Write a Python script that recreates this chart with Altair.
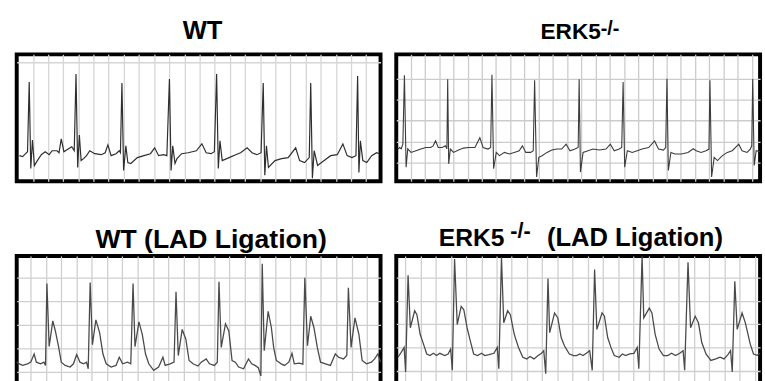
import altair as alt
import pandas as pd

# ---------------- data (time units, amplitude units) ----------------
wt_trace = [
    (2.7, 26), (6, 25), (9, 28), (11, 30), (12.7, 101), (14.3, 13), (16, 42), (18, 16), (21, 21),
    (25, 27), (29, 30), (33, 27), (36, 31), (41, 31), (43, 29), (45.3, 43), (48, 30), (52.7, 33),
    (56, 35), (58.5, 31), (60.3, 109), (62, 14), (63.7, 47), (65.5, 21), (68, 23), (71, 26),
    (74.3, 31), (79.3, 28), (86, 27), (90, 29), (92.7, 37), (96, 26), (101, 28), (104.3, 31),
    (105.5, 29), (107, 100), (108.7, 11), (111, 36), (113, 19), (116, 18), (122.7, 24), (129.3, 26),
    (136, 28), (140.3, 34), (144.3, 26), (149.3, 27), (152.7, 26), (155.3, 104), (157, 11),
    (158.7, 36), (161, 18), (163, 23), (167.7, 28), (174.3, 29), (182.7, 31), (188.3, 38),
    (192.7, 29), (197.7, 28), (201, 30), (203.3, 109), (205, 13), (206.7, 41), (209, 21), (216, 24),
    (222.7, 27), (227.7, 29), (234.3, 34), (239.3, 29), (244.3, 27), (248.5, 29), (250.7, 100),
    (252.3, 6), (254, 36), (256, 14), (262.7, 21), (269.3, 23), (276, 24), (283.7, 34), (287.7, 21),
    (292.7, 19), (297.5, 24), (299, 100), (300.7, 3), (302.5, 31), (306, 16), (312.7, 21),
    (319.3, 26), (326, 27), (331.7, 38), (336, 26), (341, 24), (345, 26), (346.7, 107), (348, 9),
    (349.5, 41), (352, 21), (356, 19), (361, 26), (366, 29), (369, 28),
]
erk5_trace = [
    (1.7, 32.7), (3.3, 34.3), (5, 33), (6.7, 37.7), (8.3, 107.7), (10, 14.3), (11.7, 33), (15, 29.3),
    (20, 31), (25, 32.7), (30, 34.3), (35, 34.3), (37.5, 36), (40, 41), (42.7, 34.3), (46.7, 34.3),
    (50, 36), (51.5, 33), (52.3, 103.7), (53.3, 17.7), (55, 32.7), (58.3, 29.3), (63.3, 31.7),
    (68.3, 33.7), (73.3, 34.3), (80, 34.3), (85, 44.3), (88.3, 34.3), (93.3, 32.7), (96, 34.3),
    (97.3, 108.3), (99, 12.7), (101.7, 29.3), (105, 26), (110, 29.3), (115, 27.7), (120, 29.3),
    (125, 31), (128.3, 36), (131.7, 29.3), (136.7, 29.3), (139.3, 31), (140.7, 102.7), (142.7, 4.3),
    (145, 24.3), (148.3, 26), (153.3, 29.3), (158.3, 31.7), (163.3, 32.7), (168.3, 32.7),
    (172.7, 37.7), (176.7, 31), (181.7, 32.7), (185, 34.3), (186, 103.7), (187.3, 9.3), (190, 29.3),
    (195, 31), (200, 32.7), (206.7, 31.7), (213.3, 32.7), (217.7, 37.7), (221.7, 31), (226.7, 32.7),
    (229.3, 34.3), (230.7, 101), (232.3, 14.3), (235, 31), (240, 29.3), (245, 31), (250, 32.7),
    (256.7, 34.3), (262.7, 41), (266.7, 32.7), (271.7, 31.7), (274, 34.3), (275.3, 104.3),
    (276.7, 11), (279.3, 29.3), (283.3, 27.7), (290, 27.7), (296.7, 29.3), (302, 33), (305, 31),
    (310, 29.3), (315, 31), (318, 32.7), (319, 102.7), (320.7, 4.3), (323.3, 24.3), (326.7, 21),
    (331.7, 26), (336.7, 29.3), (341.7, 31), (348.3, 37.7), (351.7, 31), (356.7, 29.3), (360, 32.7),
    (361.5, 36), (362.5, 104), (364, 16), (366, 31), (370, 30),
]
wt_lad_trace = [
    (0, 22), (2.7, 20.3), (6, 18.7), (11, 20.3), (14.3, 22), (17.7, 30.3), (20, 22), (24.3, 20.3),
    (27.7, 22), (29.3, 18.7), (30.7, 102), (33, 38), (36.7, 64), (39.3, 53.7), (42.7, 37), (45.3, 22),
    (49.3, 18.7), (54.3, 17), (57.7, 20.3), (61, 29.7), (64.3, 22), (68, 20.3), (71, 22),
    (72.7, 15.3), (74.7, 103), (77, 39.7), (80.5, 65), (84.3, 52), (87.7, 30.3), (91, 20.3),
    (96, 17), (101, 18.7), (104.3, 27), (107.7, 20.3), (112.7, 22), (116, 20.3), (118.3, 102),
    (120.3, 37.7), (124.3, 63), (127.7, 50.3), (131, 30.3), (134.3, 20.3), (139.3, 13.7),
    (144.3, 17), (148.7, 27), (151, 18.7), (156, 20.3), (160, 22), (162, 93.7), (164.3, 28.7),
    (168.3, 55.3), (172, 45.3), (175.3, 23.7), (179.3, 20.3), (184.3, 18), (187.7, 22), (192.7, 25.3),
    (196, 20.3), (201, 18.7), (204, 22), (205.7, 103.7), (208, 37), (212.3, 61), (215.7, 53.7),
    (219, 23.7), (222.3, 22), (225.7, 17), (230.7, 15.3), (235.7, 25.3), (239, 20.3), (242.3, 18.7),
    (245.7, 16.3), (248.3, 8), (249.7, 122), (251.7, 33.7), (255.7, 73.7), (259, 57), (261.3, 37),
    (264, 23.7), (269, 20.3), (272.3, 18.7), (276.7, 22), (280, 31), (282.3, 20.3), (287.3, 21),
    (291, 20), (293, 107.7), (295.7, 38.7), (299, 68.7), (302.3, 57), (305.7, 37), (309, 22),
    (314, 20.3), (319, 18.7), (324, 30.3), (327.3, 27), (332.3, 25.3), (335.7, 28.7), (337.3, 97.7),
    (340, 37), (344, 67), (348, 50.3), (351.3, 23.7), (355.7, 20.3), (360.7, 22), (364, 25.3),
    (367.3, 30.3), (370, 22),
]
erk5_lad_trace = [
    (1.7, 27), (5, 32), (8, 37), (9.5, 12), (12, 110.3), (14.3, 57), (18.7, 74.3), (21, 70.3),
    (24.3, 50.3), (27.7, 40.3), (31, 30.3), (34.3, 28.7), (37.7, 31), (41, 28.7), (44.3, 31),
    (49.3, 28.7), (52.7, 30.3), (55.3, 35.3), (57, 13.7), (59.3, 127), (62, 60.3), (66, 78.7),
    (68.7, 75.3), (72, 57), (75.3, 43.7), (78.7, 30.3), (82.7, 28.7), (86.7, 31), (90, 28.7),
    (94.3, 29.7), (99.3, 31), (102.7, 37), (104.3, 15.3), (107, 128.7), (109.3, 62), (113.3, 74.3),
    (116, 70.3), (120, 50.3), (124.3, 37), (128.7, 27), (132.7, 25.3), (136, 27.7), (140, 25.3),
    (144.3, 28.7), (147.7, 31), (150, 33.7), (152, 10.3), (154.3, 107), (156, 52), (161, 72),
    (164.3, 67), (167.7, 47), (171, 38.7), (176, 30.3), (180.3, 28.7), (183.3, 28.7), (186.7, 30.3),
    (190, 28.7), (193.3, 31), (196.7, 33.7), (199.3, 13.7), (201.7, 116.3), (204, 55.3), (209.3, 72),
    (211.7, 68.7), (215, 47), (218.3, 37), (221.7, 28.7), (226.7, 27), (230, 30.3), (233.3, 28.7),
    (237.3, 30.3), (241.7, 31), (245, 37), (246.7, 15.3), (250, 129.7), (251.7, 67), (257.3, 77),
    (260, 72), (263.3, 50.3), (267.3, 35.3), (271.7, 28.7), (276, 28.7), (280, 31), (284, 28.7),
    (288.3, 31), (291.7, 33.7), (293.3, 13.7), (296.7, 123.7), (299.3, 57), (304, 68.7), (307.3, 62),
    (310.7, 42), (315, 30.3), (320, 23.7), (325, 25.3), (329.3, 27), (333.3, 25.3), (337.3, 29.7),
    (340, 33.7), (341.7, 12), (344.3, 104.3), (346.7, 55.3), (351.7, 72), (355, 62), (360, 40.3),
    (363.3, 30.3), (367, 29), (370, 31),
]

# chart-paper grid lines (axis values)
wt_grid_t = [16.5, 31.9, 47.3, 62.7, 78.1, 93.5, 108.9, 124.3, 139.7, 155.1, 170.5, 185.9, 201.3,
             216.7, 232.1, 247.5, 262.9, 278.3, 293.7, 309.1, 324.5, 339.9, 355.3]
wt_grid_v = [121]
erk5_grid_t = [14.7, 29.2, 43.6, 58.1, 72.5, 87.0, 101.5, 115.9, 130.4, 144.8, 159.3, 173.8, 188.2,
               202.7, 217.1, 231.6, 246.1, 260.5, 275.0, 289.4, 303.9, 318.4, 332.8, 347.3, 361.7]
erk5_grid_v = [19.3, 40.5, 61.7, 82.9, 104.1]
wt_lad_grid_t = [14.3, 29.8, 45.4, 60.9, 76.4, 92.0, 107.5, 123.0, 138.6, 154.1, 169.6, 185.2,
                 200.7, 216.2, 231.7, 247.3, 262.8, 278.3, 293.9, 309.4, 324.9, 340.5, 356.0]
wt_lad_grid_v = [12.3, 36.3, 60.3, 84.3, 108.3]
erk5_lad_grid_t = [9.3, 24.8, 40.2, 55.7, 71.1, 86.6, 102.0, 117.5, 132.9, 148.4, 163.8, 179.3,
                   194.7, 210.2, 225.6, 241.1, 256.5, 272.0, 287.4, 302.9, 318.3, 333.8, 349.2, 364.7]
erk5_lad_grid_v = [13.3, 37.0, 60.7, 84.4, 108.1]

TF = "Liberation Sans, Arial, sans-serif"


def title_piece(s, x, y, size, align="left"):
    return alt.Chart(pd.DataFrame({"s": [s]})).mark_text(
        align=align, baseline="alphabetic", font=TF, fontSize=size, fontWeight="bold", color="black"
    ).encode(x=alt.value(x), y=alt.value(y), text="s:N")


def panel(trace, gt, gv, w, h, color, sw, gcolor, pieces):
    df = pd.DataFrame(trace, columns=["t", "v"])
    line = alt.Chart(df).mark_line(color=color, strokeWidth=sw).encode(
        x=alt.X("t:Q", scale=alt.Scale(domain=[0, w], nice=False, zero=False),
                axis=alt.Axis(values=gt, grid=True, gridColor=gcolor, gridWidth=1.3, labels=False,
                              ticks=False, domain=False, title=None)),
        y=alt.Y("v:Q", scale=alt.Scale(domain=[0, h], nice=False, zero=False),
                axis=alt.Axis(values=gv, grid=True, gridColor=gcolor, gridWidth=1.3, labels=False,
                              ticks=False, domain=False, title=None)),
        order="t:Q",
    )
    texts = [title_piece(*p) for p in pieces]
    return alt.layer(line, *texts).properties(width=w, height=h)


p1 = panel(wt_trace, wt_grid_t, wt_grid_v, 370, 129, "#2e2e2e", 1.2, "#d6d6d6",
           [("WT", 189, -16, 26, "center")])
p2 = panel(erk5_trace, erk5_grid_t, erk5_grid_v, 370, 129, "#3c3c3c", 1.1, "#cccccc",
           [("ERK5", 146.7, -15.5, 23), ("-/-", 208, -20, 20)])
p3 = panel(wt_lad_trace, wt_lad_grid_t, wt_lad_grid_v, 370, 130, "#4a4a4a", 1.3, "#cfcfcf",
           [("WT (LAD Ligation)", 197.7, -8, 27, "center")])
p4 = panel(erk5_lad_trace, erk5_lad_grid_t, erk5_lad_grid_v, 370, 130, "#4a4a4a", 1.3, "#cfcfcf",
           [("ERK5", 43.3, -10, 25), ("-/-", 116, -18, 22), ("(LAD Ligation)", 153.3, -10, 26)])

chart = alt.concat(p1, p2, p3, p4, columns=2, spacing={"row": 76, "column": 16},
                   bounds="flush").properties(
    padding={"left": 12, "top": 13, "right": 0, "bottom": 0},
    background="white",
).configure_view(stroke="black", strokeWidth=4)

chart.save("out.html", embed_options={"renderer": "svg", "actions": False})
